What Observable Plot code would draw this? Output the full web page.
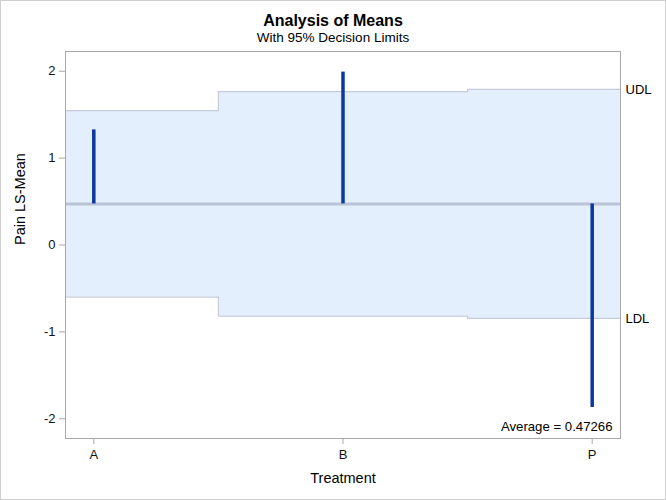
<!DOCTYPE html>
<html>
<head>
<meta charset="utf-8">
<script src="https://cdn.jsdelivr.net/npm/d3@7"></script>
<script src="https://cdn.jsdelivr.net/npm/@observablehq/plot@0.6"></script>
<style>
  html, body { margin: 0; padding: 0; background: #fff; }
  #wrap { width: 664px; height: 498px; border: 1px solid #cfcfcf; position: relative; overflow: hidden; font-family: "Liberation Sans", Arial, sans-serif; }
  #title { height: 44px; text-align: center; color: #000; }
  #title .t { font-weight: bold; font-size: 16px; padding-top: 11px; line-height: 18px; }
  #title .s { font-size: 13.5px; line-height: 16px; }
</style>
</head>
<body>
<div id="wrap">
  <div id="title"><div class="t">Analysis of Means</div><div class="s">With 95% Decision Limits</div></div>
  <div id="chart"></div>
</div>
<script>
const treatments = ["A", "B", "P"];
const lsMeans = [1.325, 1.99, -1.87];
const udl = [1.547, 1.766, 1.79];
const ldl = [-0.599, -0.818, -0.845];
const average = 0.47266;
const xDomain = [-0.1136, 2.1136];

// step data for decision limits
const stepX = [xDomain[0], 0.5, 1.5, xDomain[1]];
const steps = stepX.map((x, i) => ({
  x,
  udl: udl[Math.min(i, udl.length - 1)],
  ldl: ldl[Math.min(i, ldl.length - 1)]
}));
const bars = treatments.map((t, i) => ({ i, t, mean: lsMeans[i] }));

const bandFill = "#e4effd";
const bandLine = "#c3ccdc";

const plot = Plot.plot({
  width: 664,
  height: 454,
  marginTop: 6,
  marginBottom: 61,
  marginLeft: 64,
  marginRight: 45,
  style: { fontFamily: "'Liberation Sans', Arial, sans-serif", fontSize: "12px", color: "#111", background: "#fff" },
  x: { type: "linear", domain: xDomain },
  y: { domain: [-2.227, 2.227] },
  marks: [
    Plot.areaY(steps, { x: "x", y1: "ldl", y2: "udl", curve: "step-after", fill: bandFill }),
    Plot.line(steps, { x: "x", y: "udl", curve: "step-after", stroke: bandLine, strokeWidth: 1.2 }),
    Plot.line(steps, { x: "x", y: "ldl", curve: "step-after", stroke: bandLine, strokeWidth: 1.2 }),
    Plot.ruleY([average], { stroke: "#bac4d6", strokeWidth: 3 }),
    Plot.ruleX(bars, { x: "i", y1: () => average, y2: "mean", stroke: "#0b38a0", strokeWidth: 3.5 }),
    Plot.frame({ stroke: "#a8a8a8" }),
    Plot.axisY({ ticks: [-2, -1, 0, 1, 2], tickFormat: (d) => String(d), tickSize: 6, tickPadding: 4, stroke: "#a8a8a8", fontSize: 13, label: null }),
    Plot.axisX({ ticks: [0, 1, 2], tickFormat: (d) => treatments[d], tickSize: 6, tickPadding: 5, stroke: "#a8a8a8", fontSize: 13, label: null }),
    Plot.text(["Pain LS-Mean"], { frameAnchor: "left", dx: -45, rotate: -90, fontSize: 14.5, fill: "#000" }),
    Plot.text(["Treatment"], { frameAnchor: "bottom", dy: 44, fontSize: 14.5, fill: "#000" }),
    Plot.text([{ x: xDomain[1], y: udl[udl.length - 1], label: "UDL" }], { x: "x", y: "y", text: "label", textAnchor: "start", dx: 5, fontSize: 13, fill: "#000" }),
    Plot.text([{ x: xDomain[1], y: ldl[ldl.length - 1], label: "LDL" }], { x: "x", y: "y", text: "label", textAnchor: "start", dx: 5, fontSize: 13, fill: "#000" }),
    Plot.text([`Average = ${average}`], { frameAnchor: "bottom-right", dx: -8, dy: -8, fontSize: 13.2, fill: "#000" })
  ]
});
document.getElementById("chart").appendChild(plot);
</script>
</body>
</html>
